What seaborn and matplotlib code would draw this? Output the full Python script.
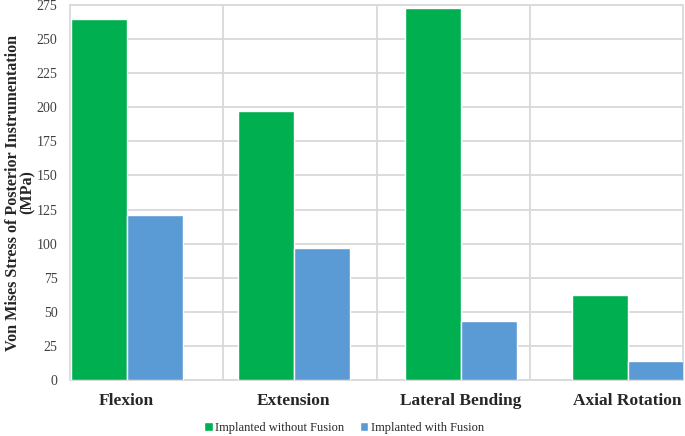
import pandas as pd
import seaborn as sns
import matplotlib.pyplot as plt
from matplotlib.patches import Patch

# Datos del grafico
categorias = ["Flexion", "Extension", "Lateral Bending", "Axial Rotation"]
sin_fusion = [264.5, 197, 272.5, 62.5]
con_fusion = [121, 96.5, 43.5, 14]
series = ["Implanted without Fusion", "Implanted with Fusion"]
colores = ["#00B050", "#5B9BD5"]

df = pd.DataFrame({
    "categoria": categorias * 2,
    "valor": sin_fusion + con_fusion,
    "serie": [series[0]] * 4 + [series[1]] * 4,
})

sns.set_theme(style="white")
plt.rcParams['font.family'] = ['Liberation Serif', 'DejaVu Serif']

fig = plt.figure(figsize=(6.85, 4.36), dpi=100)
ax = fig.add_axes([70 / 685, 56 / 436, 613 / 685, 375 / 436])

sns.barplot(data=df, x="categoria", y="valor", hue="serie",
            palette=colores, width=0.67, saturation=1,
            errorbar=None, ax=ax, legend=False, zorder=3)

ax.set_ylim(0, 275)
ax.set_yticks(range(0, 276, 25))
ax.set_xlim(-0.339, 3.332)

# grilla horizontal y lineas verticales (estilo Excel)
ax.yaxis.grid(True, color="#D9D9D9", linewidth=1.3, zorder=0)
for xv in [0.578, 1.5, 2.416]:
    ax.axvline(xv, color="#D9D9D9", linewidth=1.3, zorder=0)
for s in ["top", "right", "left", "bottom"]:
    ax.spines[s].set_color("#D9D9D9")
    ax.spines[s].set_linewidth(1.3)

ax.tick_params(axis="y", length=0, pad=9, labelsize=10, labelcolor="#404040")
ax.tick_params(axis="x", length=0, pad=9, labelsize=12.5)
for lbl in ax.get_xticklabels():
    lbl.set_fontweight("bold")
    lbl.set_color("#262626")

ax.set_xlabel("")
ax.set_ylabel("Von Mises Stress of Posterior Instrumentation\n(MPa)",
              fontsize=11.6, fontweight="bold", color="#262626",
              linespacing=0.95, va="center")
ax.yaxis.set_label_coords(-0.081, 0.50)

handles = [Patch(facecolor=c, label=s) for c, s in zip(colores, series)]
fig.legend(handles=handles, loc="center", bbox_to_anchor=(344 / 685, 1 - 428 / 436),
           ncol=2, frameon=False, fontsize=9, handlelength=0.7, handleheight=0.7,
           handletextpad=0.2, columnspacing=1.2)

plt.savefig("out.png", dpi=100)
plt.close()
